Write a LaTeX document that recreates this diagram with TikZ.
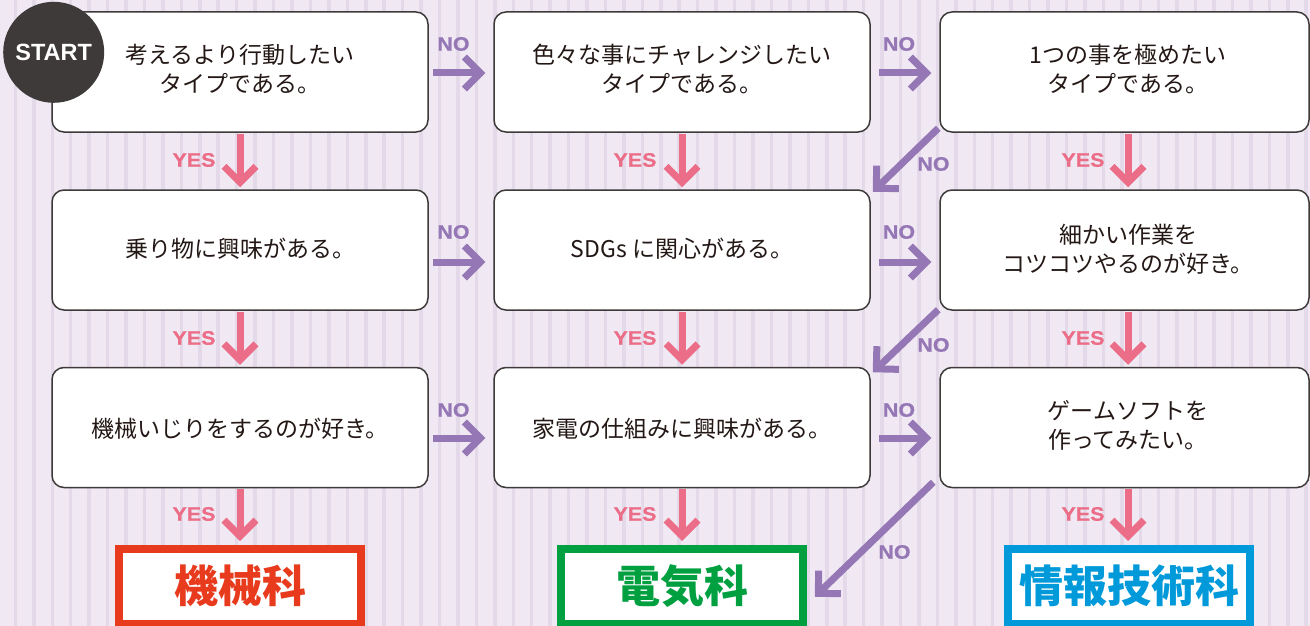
\documentclass[tikz,border=0pt]{standalone}
\usepackage{fontspec}
\setmainfont{Liberation Sans}
\newfontfamily\cjk{Noto Sans CJK JP}
\newfontfamily\lblfont[FakeStretch=1.1,FakeBold=0.6]{Liberation Sans Bold}
\usetikzlibrary{arrows.meta,calc}
\definecolor{bgc}{HTML}{F0E9F3}
\definecolor{stripec}{HTML}{E3D9E8}
\definecolor{ink}{HTML}{231815}
\definecolor{boxline}{HTML}{3E3A39}
\definecolor{startc}{HTML}{3E3A39}
\definecolor{yesc}{HTML}{EB6D87}
\definecolor{noc}{HTML}{9677B6}
\definecolor{redc}{HTML}{E83B1E}
\definecolor{greenc}{HTML}{00A040}
\definecolor{bluec}{HTML}{0099D9}
\begin{document}
\begin{tikzpicture}[x=1pt,y=-1pt,
  box/.style={draw=boxline, line width=1.5pt, fill=white, rounded corners=12pt, inner sep=0pt, minimum height=120pt},
  qtext/.style={font=\cjk\fontsize{23}{29}\selectfont, text=ink, align=center, inner sep=0pt},
  yesarr/.style={draw=yesc, line width=7pt, -{Straight Barb[length=16pt,width=32pt]}},
  noarr/.style={draw=noc, line width=7pt, -{Straight Barb[length=16pt,width=32pt]}},
  yeslbl/.style={font=\lblfont\fontsize{19.5}{19.5}\selectfont, text=yesc, inner sep=0pt},
  nolbl/.style={font=\lblfont\fontsize{19.5}{19.5}\selectfont, text=noc, inner sep=0pt},
  result/.style={draw=#1, line width=7.5pt, fill=white, text=#1, font=\cjk\bfseries\fontsize{44}{44}\selectfont, inner sep=0pt, minimum width=242pt, minimum height=75pt},
]
\useasboundingbox (0,0) rectangle (1310,626);
\clip (0,0) rectangle (1310,626);
% background
\fill[bgc] (0,0) rectangle (1310,626);
\foreach \i in {0,...,70} \fill[stripec] ({13.65+18.44*\i},0) rectangle ++(3.5,626);

% question boxes
\node[box, minimum width=376pt] (b11) at (240,72) {};
\node[box, minimum width=376pt] (b12) at (682,72) {};
\node[box, minimum width=369pt] (b13) at (1124.5,72) {};
\node[box, minimum width=376pt] (b21) at (240,250) {};
\node[box, minimum width=376pt] (b22) at (682,250) {};
\node[box, minimum width=369pt] (b23) at (1124.5,250) {};
\node[box, minimum width=376pt] (b31) at (240,427.5) {};
\node[box, minimum width=376pt] (b32) at (682,427.5) {};
\node[box, minimum width=369pt] (b33) at (1124.5,427.5) {};

\node[qtext] (q11) at (240,69.5) {考えるより行動したい\\タイプである。};
\node[qtext] (q12) at (682,69.5) {色々な事にチャレンジしたい\\タイプである。};
\node[qtext] (q13) at (1128,69.5) {1つの事を極めたい\\タイプである。};
\node[qtext] (q21) at (240,249) {乗り物に興味がある。};
\node[qtext] (q22) at (682,249) {SDGs に関心がある。};
\node[qtext] (q23) at (1128,249) {細かい作業を\\コツコツやるのが好き。};
\node[qtext] (q31) at (240,429) {機械いじりをするのが好き。};
\node[qtext] (q32) at (682,429) {家電の仕組みに興味がある。};
\node[qtext] (q33) at (1128,425.5) {ゲームソフトを\\作ってみたい。};

% results
\node[result=redc] (r1) at (240,586.25) {機械科};
\node[result=greenc] (r2) at (682,586.25) {電気科};
\node[result=bluec] (r3) at (1129,586.25) {情報技術科};

% START
\node[circle, fill=startc, minimum size=101pt, inner sep=0pt, text=white,
  font=\bfseries\fontsize{23.5}{23.5}\selectfont] (start) at (53.7,52.3) {START};

% YES arrows
\draw[yesarr, shorten <=1pt, shorten >=2pt] (b11.south -| q11) -- (b21.north -| q21);
\draw[yesarr, shorten <=1pt, shorten >=2pt] (b12.south -| q12) -- (b22.north -| q22);
\draw[yesarr, shorten <=1pt, shorten >=2pt] (b13.south -| q13) -- (b23.north -| q23);
\draw[yesarr, shorten <=1pt, shorten >=2pt] (b21.south -| q21) -- (b31.north -| q31);
\draw[yesarr, shorten <=1pt, shorten >=2pt] (b22.south -| q22) -- (b32.north -| q32);
\draw[yesarr, shorten <=1pt, shorten >=2pt] (b23.south -| q23) -- (b33.north -| q33);
\draw[yesarr, shorten <=1pt, shorten >=4pt] (b31.south -| q31) -- (r1.north -| q31);
\draw[yesarr, shorten <=1pt, shorten >=4pt] (b32.south -| q32) -- (r2.north -| q32);
\draw[yesarr, shorten <=1pt, shorten >=4pt] (b33.south -| q33) -- (r3.north -| q33);

\node[yeslbl] (y11) at (194,160) {YES};
\node[yeslbl] (y12) at (635,160) {YES};
\node[yeslbl] (y13) at (1083,160) {YES};
\node[yeslbl] (y21) at (194,338) {YES};
\node[yeslbl] (y22) at (635,338) {YES};
\node[yeslbl] (y23) at (1083,338) {YES};
\node[yeslbl] (y31) at (194,514) {YES};
\node[yeslbl] (y32) at (635,514) {YES};
\node[yeslbl] (y33) at (1083,514) {YES};

% NO arrows (horizontal)
\draw[noarr, shorten <=4pt, shorten >=8pt] ($(b11.east)+(0,1)$) -- ($(b12.west)+(0,1)$);
\draw[noarr, shorten <=4pt, shorten >=8pt] ($(b21.east)+(0,12)$) -- ($(b22.west)+(0,12)$);
\draw[noarr, shorten <=4pt, shorten >=8pt] ($(b31.east)+(0,10.5)$) -- ($(b32.west)+(0,10.5)$);
\draw[noarr, shorten <=8pt, shorten >=8pt] ($(b12.east)+(0,1)$) -- ($(b13.west)+(0,1)$);
\draw[noarr, shorten <=8pt, shorten >=8pt] ($(b22.east)+(0,12)$) -- ($(b23.west)+(0,12)$);
\draw[noarr, shorten <=8pt, shorten >=8pt] ($(b32.east)+(0,10.5)$) -- ($(b33.west)+(0,10.5)$);
% NO arrows (diagonal)
\draw[noarr] ($(b13.south west)+(-1,-4.5)$) -- ($(b22.north east)+(2,2.5)$);
\draw[noarr] ($(b23.south west)+(-1,-1)$) -- ($(b32.north east)+(2,5.5)$);
\draw[noarr] ($(b33.south west)+(-6,-6)$) -- ($(r2.east)+(8,10.5)$);

\node[nolbl] (n11) at (453.5,44) {NO};
\node[nolbl] (n21) at (453.5,232) {NO};
\node[nolbl] (n31) at (453.5,410) {NO};
\node[nolbl] (n12) at (899,44) {NO};
\node[nolbl] (n22) at (899,232) {NO};
\node[nolbl] (n32) at (899,410) {NO};
\node[nolbl] (d1) at (933.5,164) {NO};
\node[nolbl] (d2) at (933.5,345) {NO};
\node[nolbl] (d3) at (894.5,552) {NO};
\end{tikzpicture}
\end{document}
